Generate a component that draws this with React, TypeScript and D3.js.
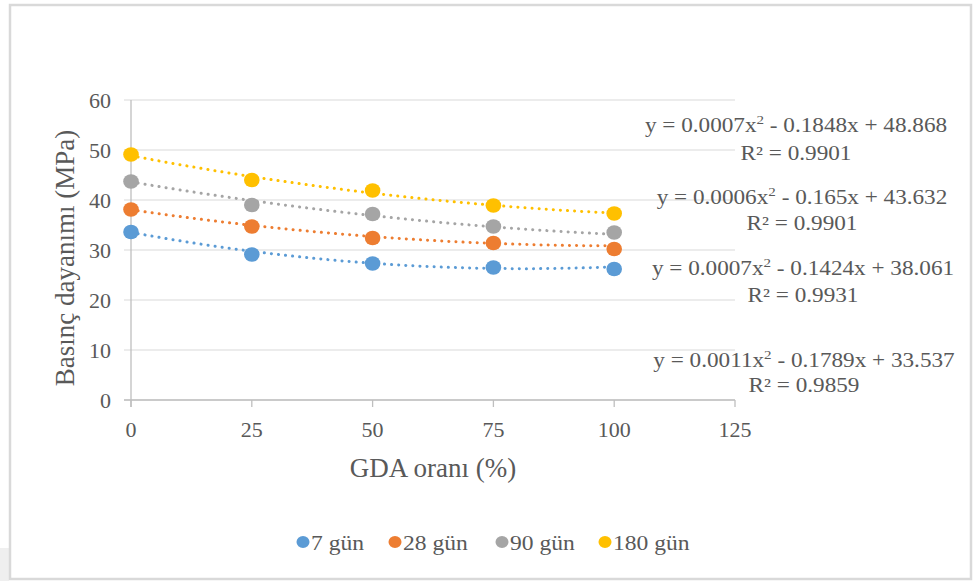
import React from "react";
import * as d3 from "d3";

// GDA ratio (%) on x, compressive strength (MPa) on y
const gdaRatio = [0, 25, 50, 75, 100];
const seriesNames = ["7 gün", "28 gün", "90 gün", "180 gün"];
const seriesColors = ["#5b9bd5", "#ed7d31", "#a5a5a5", "#ffc000"];
const gun7 = [33.6, 29.1, 27.3, 26.5, 26.2];
const gun28 = [38.1, 34.7, 32.4, 31.4, 30.2];
const gun90 = [43.7, 39.0, 37.2, 34.7, 33.5];
const gun180 = [49.1, 44.0, 41.9, 38.9, 37.3];

// trendline coefficients (y = a x^2 + b x + c)
const trendA = [0.0011, 0.0007, 0.0006, 0.0007];
const trendB = [-0.1789, -0.1424, -0.165, -0.1848];
const trendC = [33.537, 38.061, 43.632, 48.868];
const trendR2 = ["0.9859", "0.9931", "0.9901", "0.9901"];

const xTicks = [0, 25, 50, 75, 100, 125];
const yTicks = [0, 10, 20, 30, 40, 50, 60];

const W = 974;
const H = 581;
const FONT = "Liberation Serif";
const TXT = "#595959";

function SText(props: any) {
  const {x, y, anchor, size, sx = 1, children} = props;
  return (
    <text transform={`translate(${x},${y}) scale(${sx},1)`} textAnchor={anchor || "start"}
      fontSize={size} fill={TXT} style={{fontFamily: FONT}}>
      {children}
    </text>
  );
}

function fmtCoef(v: number) {
  return Math.abs(v).toString();
}

export default function App() {
  const allSeries = [gun7, gun28, gun90, gun180];

  const x = d3.scaleLinear().domain([0, 125]).range([131, 735]);
  const y = d3.scaleLinear().domain([0, 60]).range([400, 100]);

  // equation label anchors: [centre x, line1 baseline, line2 baseline]
  const eqPos = [
    [804, 367, 392],
    [803, 275, 302],
    [802, 204, 230],
    [796, 132, 160],
  ];

  const legendX = [303, 395, 502, 605];

  return (
    <div style={{position: "absolute", left: 0, top: 0}}>
      <svg width={W} height={H} style={{display: "block", background: "#fff", fontFamily: FONT}}>
        <rect x={0} y={548} width={9} height={H - 548} fill="#efefef" />
        <rect x={10} y={5} width={961} height={574} fill="#fff" stroke="#d9d9d9" strokeWidth={2.5} />

        {/* gridlines */}
        {yTicks.map((t) => (
          <line key={"g" + t} x1={124} x2={x(125)} y1={y(t)} y2={y(t)}
            stroke="#d9d9d9" strokeWidth={1.2} />
        ))}
        <line x1={x(0)} x2={x(0)} y1={y(60)} y2={y(0) + 7} stroke="#bfbfbf" strokeWidth={1.3} />
        <line x1={124} x2={x(125)} y1={y(0)} y2={y(0)} stroke="#bfbfbf" strokeWidth={1.3} />
        {xTicks.map((t) => (
          <line key={"xt" + t} x1={x(t)} x2={x(t)} y1={y(0)} y2={y(0) + 7}
            stroke="#bfbfbf" strokeWidth={1.3} />
        ))}

        {/* tick labels */}
        {yTicks.map((t) => (
          <SText key={"yl" + t} x={111} y={y(t) + 7.5} anchor="end" size={22}>{t}</SText>
        ))}
        {xTicks.map((t) => (
          <SText key={"xl" + t} x={x(t)} y={437} anchor="middle" size={22}>{t}</SText>
        ))}

        {/* axis titles */}
        <text transform="translate(74,258) rotate(-90)" textAnchor="middle"
          fontSize={27} fill={TXT} style={{fontFamily: FONT}}>Basınç dayanımı (MPa)</text>
        <SText x={433} y={477} anchor="middle" size={27}>GDA oranı (%)</SText>

        {/* trendlines */}
        {allSeries.map((s, i) => {
          const xs = d3.range(0, 100.5, 1);
          const path = d3.line<number>()
            .x((d) => x(d))
            .y((d) => y(trendA[i] * d * d + trendB[i] * d + trendC[i]))(xs);
          return (
            <path key={"tr" + i} d={path || ""} fill="none" stroke={seriesColors[i]}
              strokeWidth={3} strokeLinecap="round" strokeDasharray="0.1 7" />
          );
        })}

        {/* markers */}
        {allSeries.map((s, i) =>
          s.map((v, j) => (
            <ellipse key={`m${i}-${j}`} cx={x(gdaRatio[j])} cy={y(v)} rx={7.8} ry={7.3}
              fill={seriesColors[i]} />
          ))
        )}

        {/* trend equations */}
        {allSeries.map((s, i) => {
          const [cx, b1, b2] = eqPos[i];
          return (
            <g key={"eq" + i}>
              <SText x={cx} y={b1} anchor="middle" size={20} sx={1.16}>
                {`y = ${fmtCoef(trendA[i])}x`}
                <tspan fontSize={13} dy={-8}>2</tspan>
                <tspan dy={8}>{` ${trendB[i] < 0 ? "-" : "+"} ${fmtCoef(trendB[i])}x + ${trendC[i].toFixed(3)}`}</tspan>
              </SText>
              <SText x={cx} y={b2} anchor="middle" size={20} sx={1.16}>{`R² = ${trendR2[i]}`}</SText>
            </g>
          );
        })}

        {/* legend */}
        {seriesNames.map((n, i) => (
          <g key={"lg" + i}>
            <ellipse cx={legendX[i]} cy={542} rx={6.5} ry={6} fill={seriesColors[i]} />
            <SText x={legendX[i] + 8} y={550} size={20.5} sx={1.15}>{n}</SText>
          </g>
        ))}
      </svg>
    </div>
  );
}
